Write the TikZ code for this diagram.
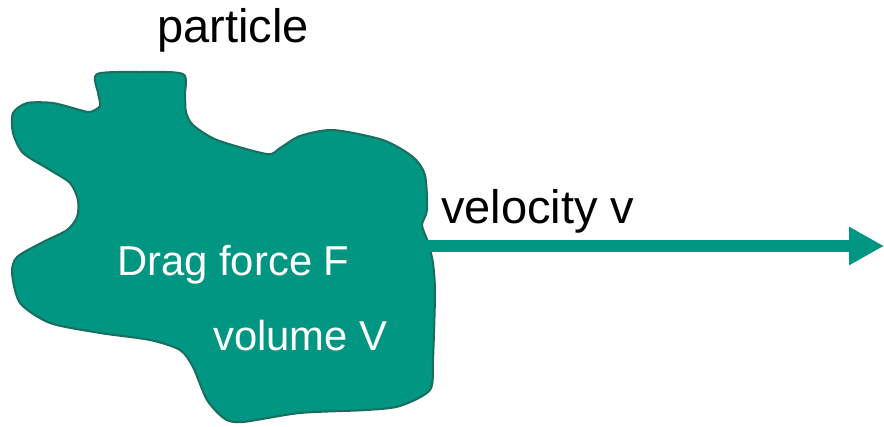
\documentclass[tikz,border=0pt]{standalone}
\usepackage{fontspec}
\setmainfont{Liberation Sans}
\usetikzlibrary{arrows.meta}
\definecolor{tealfill}{RGB}{0,150,130}
\definecolor{tealedge}{RGB}{25,110,95}
\begin{document}
\begin{tikzpicture}[x=1pt,y=-1pt,
  blob/.style={fill=tealfill,draw=tealedge,line width=2pt,line join=round},
  velarrow/.style={draw=tealfill,line width=12pt,-{Triangle[length=35pt,width=36pt]}},
  bigtext/.style={anchor=base west,inner sep=0pt,font=\fontsize{47}{50}\selectfont,text=black},
  intext/.style={anchor=base west,inner sep=0pt,font=\fontsize{41.8}{44}\selectfont,text=white}]
\useasboundingbox (0,0) rectangle (884,426);
% irregular particle outline
\draw[blob] plot[smooth cycle,tension=0.45] coordinates {
  (97,74) (140,72) (183,74) (185,95) (186,112) (193,125) (217,140) (267,154)
  (280,148) (300,136) (333,130) (383,140) (413,157) (425,175) (427,210)
  (422,225) (428,242) (433,263) (435,293) (433,360) (430,390) (400,406)
  (367,410) (300,413) (243,422) (225,419) (207,400) (193,367) (180,350)
  (150,340) (100,333) (50,323) (20,303) (12,273) (17,257) (43,242) (67,230)
  (77,217) (78,200) (70,183) (50,170) (23,153) (13,133) (13,113) (27,103)
  (53,103) (80,110) (90,112) (100,106) (98,93)};
% labels
\node[bigtext] (particle) at (157,42) {particle};
\node[bigtext] (velocity) at (441,223) {velocity v};
\node[intext] (drag) at (117,275) {Drag force F};
\node[intext] (volume) at (213,350) {volume V};
% velocity arrow
\coordinate (vstart) at (425,246);
\coordinate (vend) at (884,246);
\draw[velarrow] (vstart) -- (vend);
\end{tikzpicture}
\end{document}
